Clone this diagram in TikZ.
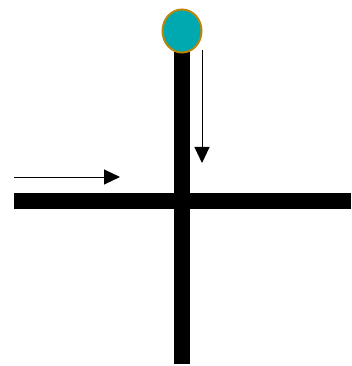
\documentclass[tikz,border=0pt]{standalone}
\usetikzlibrary{arrows.meta,shapes.geometric}
\definecolor{tealfill}{HTML}{00A8B0}
\definecolor{goldedge}{HTML}{B8860B}
\tikzset{
  bar/.style={fill=black, draw=none},
  flowarrow/.style={line width=1pt, -{Triangle[length=16pt,width=15pt]}},
  knob/.style={ellipse, fill=tealfill, draw=goldedge, line width=2pt, minimum width=39pt, minimum height=43pt, inner sep=0pt}
}
\begin{document}
\begin{tikzpicture}[x=1pt,y=-1pt]
\useasboundingbox (0,0) rectangle (351,366);
\fill[bar] (174,45) rectangle (190,364);
\fill[bar] (14,193) rectangle (351,209);
\node[knob] (k) at (182,31) {};
\coordinate (a1) at (14,177);
\coordinate (a2) at (120,177);
\coordinate (b1) at (202,50);
\coordinate (b2) at (202,163);
\draw[flowarrow] (a1) -- (a2);
\draw[flowarrow] (b1) -- (b2);
\end{tikzpicture}
\end{document}
